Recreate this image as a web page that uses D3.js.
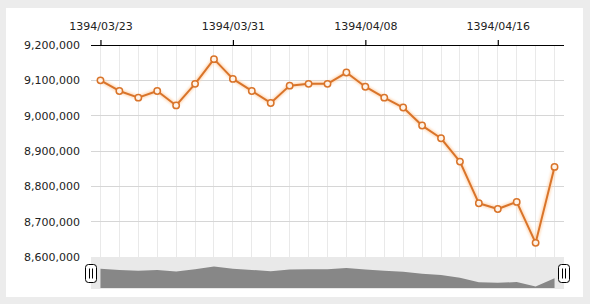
<!DOCTYPE html>
<html>
<head>
<meta charset="utf-8">
<script src="https://cdn.jsdelivr.net/npm/d3@7"></script>
<style>
  html, body { margin: 0; padding: 0; background: #ececec; }
  svg { display: block; font-family: "DejaVu Sans", Verdana, sans-serif; }
</style>
</head>
<body>
<div id="viz"></div>
<script>
// trading days (Fridays skipped)
const dates = [
  '1394/03/23', '1394/03/24', '1394/03/25', '1394/03/26', '1394/03/27', '1394/03/28', '1394/03/30', '1394/03/31',
  '1394/04/01', '1394/04/02', '1394/04/03', '1394/04/04', '1394/04/06', '1394/04/07', '1394/04/08',
  '1394/04/09', '1394/04/10', '1394/04/11', '1394/04/13', '1394/04/14', '1394/04/15', '1394/04/16',
  '1394/04/17', '1394/04/18', '1394/04/20'
];
const values = [
  9100000, 9070000, 9051000, 9070000, 9029000, 9090000, 9160000, 9104000,
  9070000, 9036000, 9085000, 9090000, 9090000, 9122000, 9082000,
  9051000, 9023000, 8972000, 8936000, 8870000, 8752000, 8736000,
  8756000, 8640000, 8855000
];
const tickDates = ['1394/03/23', '1394/03/31', '1394/04/08', '1394/04/16'];
const yTicks = [8600000, 8700000, 8800000, 8900000, 9000000, 9100000, 9200000];

const dataSet = dates.map((d, i) => ({ date: d, value: values[i] }));
const xAccessor = d => d.date;
const yAccessor = d => d.value;

/* dimensions */
const dimensions = {
  width: 590,
  height: 304,
  margin: { top: 45, right: 26, bottom: 47, left: 91 }
};
dimensions.boundedWidth = dimensions.width - dimensions.margin.left - dimensions.margin.right;
dimensions.boundedHeight = dimensions.height - dimensions.margin.top - dimensions.margin.bottom;

/* canvas */
const svg = d3.select('#viz')
  .append('svg')
    .attr('width', dimensions.width)
    .attr('height', dimensions.height);

svg.append('rect')
  .attr('x', 6).attr('y', 8)
  .attr('width', 577).attr('height', 289)
  .attr('fill', '#fff');

const defs = svg.append('defs');
const glow = defs.append('filter').attr('id', 'glow')
  .attr('x', '-10%').attr('y', '-10%').attr('width', '120%').attr('height', '120%');
glow.append('feGaussianBlur').attr('stdDeviation', 1.2);

const viz = svg.append('g')
  .attr('transform', `translate(${dimensions.margin.left}, ${dimensions.margin.top})`);

/* scales */
const xScale = d3.scalePoint()
  .domain(dates)
  .range([0, dimensions.boundedWidth])
  .padding(0.5);

const yScale = d3.scaleLinear()
  .domain([8600000, 9200000])
  .range([dimensions.boundedHeight, 0]);

/* grid */
viz.append('g')
  .selectAll('line')
  .data(dates)
  .join('line')
    .attr('x1', d => xScale(d)).attr('x2', d => xScale(d))
    .attr('y1', 0).attr('y2', dimensions.boundedHeight)
    .attr('stroke', '#e9e9e9')
    .attr('shape-rendering', 'crispEdges');

viz.append('g')
  .selectAll('line')
  .data(yTicks.slice(1, -1))
  .join('line')
    .attr('x1', 0).attr('x2', dimensions.boundedWidth)
    .attr('y1', d => yScale(d)).attr('y2', d => yScale(d))
    .attr('stroke', '#d6d6d6')
    .attr('shape-rendering', 'crispEdges');

/* data */
const lineGenerator = d3.line()
  .x(d => xScale(xAccessor(d)))
  .y(d => yScale(yAccessor(d)));

viz.append('path')
  .attr('d', lineGenerator(dataSet))
  .attr('fill', 'none')
  .attr('stroke', '#ffd2ab')
  .attr('stroke-opacity', 0.8)
  .attr('stroke-width', 4.5)
  .attr('stroke-linejoin', 'round')
  .attr('filter', 'url(#glow)');

viz.append('path')
  .attr('d', lineGenerator(dataSet))
  .attr('fill', 'none')
  .attr('stroke', '#d9742a')
  .attr('stroke-width', 2)
  .attr('stroke-linejoin', 'round');

viz.append('g')
  .selectAll('circle')
  .data(dataSet)
  .join('circle')
    .attr('cx', d => xScale(xAccessor(d)))
    .attr('cy', d => yScale(yAccessor(d)))
    .attr('r', 3.2)
    .attr('fill', '#fff3e8')
    .attr('stroke', '#d9742a')
    .attr('stroke-width', 1.5);

/* peripherals */
const xAxisGenerator = d3.axisTop(xScale)
  .tickValues(tickDates)
  .tickSize(5)
  .tickPadding(10)
  .tickSizeOuter(0);

const xAxis = viz.append('g')
  .call(xAxisGenerator);
xAxis.select('.domain').attr('stroke', '#000').attr('stroke-width', 1.2)
  .attr('d', `M0,0.5H${dimensions.boundedWidth}`);
xAxis.selectAll('.tick line').attr('stroke', '#000').attr('stroke-width', 1.2);
xAxis.selectAll('text')
  .attr('font-size', 11)
  .attr('fill', '#222')
  .attr('font-family', '"DejaVu Sans", Verdana, sans-serif');

const yAxis = viz.append('g')
  .call(d3.axisLeft(yScale).tickValues(yTicks).tickSize(0).tickPadding(11).tickFormat(d3.format(',')));
yAxis.select('.domain').remove();
yAxis.selectAll('text')
  .attr('font-size', 11)
  .attr('fill', '#222')
  .attr('font-family', '"DejaVu Sans", Verdana, sans-serif');

/* scrollbar */
const scroll = svg.append('g')
  .attr('transform', `translate(${dimensions.margin.left}, ${dimensions.margin.top + dimensions.boundedHeight})`);

scroll.append('rect')
  .attr('x', 0).attr('y', 0)
  .attr('width', dimensions.boundedWidth).attr('height', 32)
  .attr('fill', '#e9e9e9');

const yScroll = d3.scaleLinear()
  .domain(d3.extent(values))
  .range([29.5, 9.5]);

const areaGenerator = d3.area()
  .x(d => xScale(xAccessor(d)))
  .y0(31)
  .y1(d => yScroll(yAccessor(d)));

scroll.append('path')
  .attr('d', areaGenerator(dataSet))
  .attr('fill', '#878787');

const handles = [0, dimensions.boundedWidth];
const handle = scroll.selectAll('g.handle')
  .data(handles)
  .join('g')
    .attr('class', 'handle')
    .attr('transform', d => `translate(${d - 5.5}, 7.5)`);
handle.append('rect')
  .attr('width', 11).attr('height', 18).attr('rx', 3)
  .attr('fill', '#fff').attr('stroke', '#000').attr('stroke-width', 1);
handle.append('line')
  .attr('x1', 4).attr('x2', 4).attr('y1', 4).attr('y2', 14)
  .attr('stroke', '#000');
handle.append('line')
  .attr('x1', 7).attr('x2', 7).attr('y1', 4).attr('y2', 14)
  .attr('stroke', '#000');
</script>
</body>
</html>
